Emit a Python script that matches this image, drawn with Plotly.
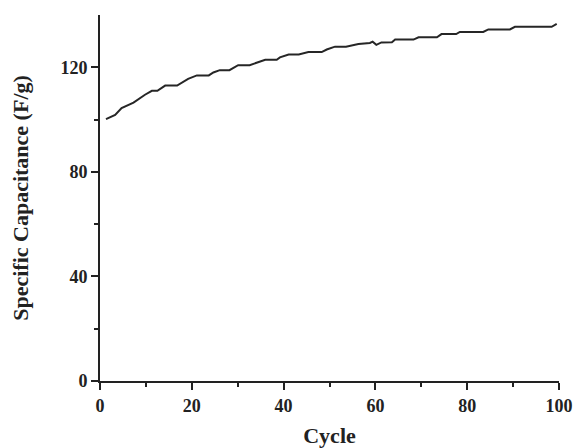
import plotly.graph_objects as go

cycle = [1.3, 3.3, 4.7, 7.3, 9.8, 11.3, 12.5, 14.2, 16.8, 19.2, 21.1, 23.7, 24.7, 26.1, 28.2,
         30.1, 32.6, 34.5, 36.0, 38.5, 39.2, 41.1, 43.3, 45.4, 48.3, 49.4, 51.2, 53.6, 56.3,
         58.8, 59.4, 60.2, 61.3, 63.6, 64.3, 68.3, 69.4, 73.4, 74.4, 77.6, 78.4, 83.5, 84.6,
         89.3, 90.4, 98.4, 99.5]
capacitance = [100.2, 101.8, 104.4, 106.5, 109.5, 111.0, 111.0, 113.0, 113.0, 115.6, 116.9, 116.9,
               118.0, 118.9, 118.9, 120.8, 120.8, 122.0, 122.9, 122.9, 123.8, 124.9, 124.9, 125.8,
               125.8, 126.8, 127.9, 127.9, 128.9, 129.3, 129.8, 128.6, 129.5, 129.6, 130.6, 130.6,
               131.5, 131.5, 132.7, 132.7, 133.5, 133.5, 134.5, 134.5, 135.5, 135.5, 136.6]

x_ticks = [0, 20, 40, 60, 80, 100]
y_ticks = [0, 40, 80, 120]

FONT = "Liberation Serif, Times New Roman, serif"

fig = go.Figure(go.Scatter(x=cycle, y=capacitance, mode="lines",
                           line=dict(color="#262626", width=2)))

axis_common = dict(showline=True, linecolor="#222", linewidth=2, ticks="outside",
                   ticklen=7, tickwidth=2, tickcolor="#222", showgrid=False, zeroline=False,
                   automargin=False,
                   tickfont=dict(family=FONT, size=18, color="#222", weight="bold"))

fig.update_xaxes(range=[0, 100], tickvals=x_ticks, **axis_common,
                 minor=dict(dtick=10, ticks="outside", ticklen=4, tickwidth=2, tickcolor="#222"),
                 title=dict(text="Cycle", font=dict(family=FONT, size=22, color="#222", weight="bold"),
                            standoff=20))
fig.update_yaxes(range=[0, 140], tickvals=y_ticks, **axis_common,
                 minor=dict(tickvals=[20, 60, 100], ticks="outside", ticklen=4, tickwidth=2, tickcolor="#222"),
                 title=dict(text="Specific Capacitance (F/g)",
                            font=dict(family=FONT, size=22, color="#222", weight="bold"),
                            standoff=26))

fig.update_layout(width=576, height=448, margin=dict(l=100, r=17, t=15, b=67, autoexpand=False),
                  plot_bgcolor="white", paper_bgcolor="white", showlegend=False)

fig.write_html("out.html")
